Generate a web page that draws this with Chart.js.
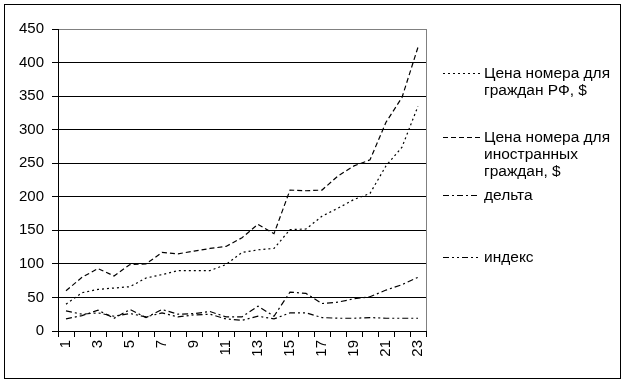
<!DOCTYPE html>
<html>
<head>
<meta charset="utf-8">
<script src="https://cdn.jsdelivr.net/npm/chart.js@4.4.1/dist/chart.umd.min.js"></script>
<style>
  html, body { margin:0; padding:0; background:#fff; }
  #wrap { position:relative; width:625px; height:382px; overflow:hidden; }
  #frame { position:absolute; left:4px; top:4px; border:1px solid #000; box-sizing:border-box; width:617px; height:375px; pointer-events:none; }
  canvas { position:absolute; left:0; top:0; }
  .lg { position:absolute; font-family:"Liberation Sans", Arial, sans-serif; font-size:15.5px; line-height:17px; color:#000; }
  .lg svg { position:absolute; left:0; }
  .lg .t { position:absolute; left:41px; white-space:nowrap; }
</style>
</head>
<body>
<div id="wrap">
  <canvas id="c" width="625" height="382"></canvas>
  <div id="frame"></div>
  <div id="legend"></div>
</div>
<script>
const categories = ["1","2","3","4","5","6","7","8","9","10","11","12","13","14","15","16","17","18","19","20","21","22","23"];
const seriesNames = ["Цена номера для граждан РФ, $", "Цена номера для иностранных граждан, $", "дельта", "индекс"];
const priceRF      = [40, 57, 62, 64, 66, 79, 84, 90, 90, 90, 99, 117, 121, 123, 151, 152, 171, 183, 196, 205, 246, 274, 335];
const priceForeign = [60, 80, 93, 82, 99, 100, 117, 115, 119, 123, 126, 139, 159, 145, 210, 209, 210, 231, 246, 255, 311, 348, 423];
const delta        = [18, 23, 31, 19, 32, 20, 32, 25, 26, 29, 21, 21, 37, 22, 58, 56, 41, 43, 48, 51, 61, 69, 80];
const indexVals    = [30, 25, 27, 22, 26, 21, 27, 21, 24, 25, 18, 16, 22, 18, 27, 27, 20, 19, 19, 20, 19, 19, 19];
const yTicks       = [0, 50, 100, 150, 200, 250, 300, 350, 400, 450];

const dashes = [[2,3],[5,3],[6,3,2,3],[6,3,2,3,2,3]];
const allData = [priceRF, priceForeign, delta, indexVals];

const plotBorder = {
  id: 'plotBorder',
  afterDraw(chart) {
    const a = chart.chartArea, ctx = chart.ctx;
    ctx.save();
    ctx.strokeStyle = '#808080';
    ctx.lineWidth = 1;
    ctx.beginPath();
    const x = Math.round(a.right) + 0.5;
    ctx.moveTo(x, a.top);
    ctx.lineTo(x, a.bottom);
    ctx.stroke();
    ctx.restore();
  }
};

new Chart(document.getElementById('c'), {
  type: 'line',
  data: {
    labels: categories,
    datasets: allData.map((d, i) => ({
      label: seriesNames[i],
      data: d,
      borderColor: '#000',
      borderWidth: 1.2,
      borderDash: dashes[i],
      pointRadius: 0,
      tension: 0,
      fill: false
    }))
  },
  options: {
    responsive: false,
    animation: false,
    devicePixelRatio: 1,
    layout: { padding: { top: 29, left: 0, right: 199, bottom: 0 } },
    plugins: { legend: { display: false }, tooltip: { enabled: false } },
    scales: {
      x: {
        type: 'category',
        offset: true,
        grid: { offset: true, drawOnChartArea: false, drawTicks: true, tickLength: 6, color: '#000', lineWidth: 1 },
        border: { display: true, color: '#000', width: 1 },
        ticks: {
          autoSkip: false, minRotation: 90, maxRotation: 90, padding: 3,
          color: '#000', font: { family: '"Liberation Sans", Arial, sans-serif', size: 15 },
          callback: function(v, i) { return i % 2 === 0 ? categories[i] : ''; }
        },
        afterFit(s) { s.height = 51; }
      },
      y: {
        min: 0, max: 450,
        afterBuildTicks(s) { s.ticks = yTicks.map(v => ({ value: v })); },
        grid: {
          color: (c) => (c.tick && c.tick.value === 450) ? '#808080' : '#000',
          tickColor: '#000', lineWidth: 1, drawTicks: true, tickLength: 6
        },
        border: { display: true, color: '#000', width: 1 },
        ticks: { padding: 8, color: '#000', font: { family: '"Liberation Sans", Arial, sans-serif', size: 15 } },
        afterFit(s) { s.width = 58; }
      }
    }
  },
  plugins: [plotBorder]
});

// HTML legend
const legendPos = [
  { top: 64, lines: ["Цена номера для", "граждан РФ, $"] },
  { top: 128, lines: ["Цена номера для", "иностранных", "граждан, $"] },
  { top: 186, lines: ["дельта"] },
  { top: 248, lines: ["индекс"] }
];
const lg = document.getElementById('legend');
legendPos.forEach((p, i) => {
  const d = document.createElement('div');
  d.className = 'lg';
  d.style.left = '443px';
  d.style.top = p.top + 'px';
  const svg = document.createElementNS('http://www.w3.org/2000/svg', 'svg');
  svg.setAttribute('width', '37'); svg.setAttribute('height', '17');
  svg.style.top = '0px';
  const ln = document.createElementNS('http://www.w3.org/2000/svg', 'line');
  ln.setAttribute('x1', '0'); ln.setAttribute('x2', '37');
  ln.setAttribute('y1', '9.5'); ln.setAttribute('y2', '9.5');
  ln.setAttribute('stroke', '#000'); ln.setAttribute('stroke-width', '1');
  ln.setAttribute('stroke-dasharray', dashes[i].join(','));
  svg.appendChild(ln);
  d.appendChild(svg);
  const t = document.createElement('div');
  t.className = 't';
  t.innerHTML = p.lines.join('<br>');
  d.appendChild(t);
  lg.appendChild(d);
});
</script>
</body>
</html>
